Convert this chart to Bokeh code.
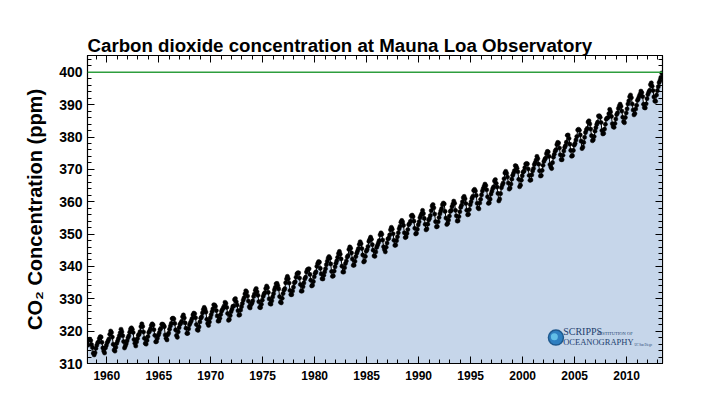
import numpy as np
from bokeh.plotting import figure
from bokeh.models import (LinearAxis, FixedTicker, Span, Label, Range1d)
from bokeh.embed import file_html
from bokeh.resources import INLINE

# Monthly mean CO2 at Mauna Loa (ppm), starting March 1958
start_year, start_month = 1958, 3
co2_1950s = [315.71, 317.45, 317.50, 317.10, 315.86, 314.93, 313.20, 312.66, 313.33, 314.67,
             315.62, 316.38, 316.71, 317.72, 318.29, 318.15, 316.54, 314.80, 313.84, 313.26, 314.80, 315.58]
co2_1960s = [316.43, 316.97, 317.58, 319.02, 320.03, 319.59, 318.18, 315.91, 314.16, 313.83, 315.00, 316.19,
             316.93, 317.70, 318.54, 319.48, 320.58, 319.77, 318.57, 316.79, 314.80, 315.38, 316.10, 317.01,
             317.94, 318.56, 319.68, 320.63, 321.01, 320.55, 319.58, 317.40, 316.26, 315.42, 316.69, 317.69,
             318.74, 319.08, 319.86, 321.39, 322.25, 321.47, 319.74, 317.77, 316.21, 315.99, 317.12, 318.31,
             319.57, 320.07, 320.73, 321.77, 322.25, 321.89, 320.44, 318.70, 316.70, 316.79, 317.79, 318.71,
             319.44, 320.44, 320.89, 322.13, 322.16, 321.87, 321.39, 318.81, 317.81, 317.30, 318.87, 319.42,
             320.62, 321.59, 322.39, 323.87, 324.01, 323.75, 322.39, 320.37, 318.64, 318.10, 319.79, 321.08,
             322.07, 322.50, 323.04, 324.42, 325.00, 324.09, 322.55, 320.92, 319.31, 319.31, 320.72, 321.96,
             322.57, 323.15, 323.89, 325.02, 325.57, 325.36, 324.14, 322.03, 320.41, 320.25, 321.31, 322.84,
             324.00, 324.42, 325.64, 326.66, 327.34, 326.76, 325.88, 323.67, 322.38, 321.78, 322.85, 324.11]
co2_1970s = [325.03, 325.99, 326.87, 328.13, 328.07, 327.66, 326.35, 324.69, 323.10, 323.16, 323.98, 325.13,
             326.17, 326.68, 327.18, 327.78, 328.92, 328.57, 327.34, 325.46, 323.36, 323.57, 324.80, 326.01,
             326.77, 327.63, 327.75, 329.72, 330.07, 329.09, 328.05, 326.32, 324.93, 325.06, 326.50, 327.55,
             328.54, 329.56, 330.30, 331.50, 332.48, 332.07, 330.87, 329.31, 327.51, 327.18, 328.16, 328.64,
             329.35, 330.71, 331.48, 332.65, 333.19, 332.16, 331.07, 329.12, 327.32, 327.28, 328.30, 329.58,
             330.73, 331.46, 331.90, 333.17, 333.94, 333.45, 331.97, 329.95, 328.50, 328.34, 329.37, 330.58,
             331.59, 332.75, 333.52, 334.64, 334.77, 334.00, 333.06, 330.68, 328.95, 328.75, 330.15, 331.62,
             332.66, 333.13, 334.95, 336.13, 336.93, 336.17, 334.88, 332.56, 331.29, 331.27, 332.41, 333.60,
             334.95, 335.25, 336.66, 337.69, 338.03, 338.01, 336.41, 334.41, 332.37, 332.41, 333.75, 334.90,
             336.14, 336.69, 338.27, 338.95, 339.21, 339.26, 337.54, 335.75, 333.98, 334.19, 335.31, 336.81]
co2_1980s = [337.90, 338.34, 340.01, 340.93, 341.48, 341.33, 339.40, 337.70, 336.19, 336.15, 337.27, 338.32,
             339.29, 340.55, 341.61, 342.53, 343.03, 342.54, 340.78, 338.44, 336.95, 337.08, 338.58, 339.88,
             340.96, 341.73, 342.81, 343.97, 344.63, 343.79, 342.32, 340.09, 338.28, 338.29, 339.60, 340.90,
             341.68, 342.90, 343.33, 345.25, 346.03, 345.63, 344.19, 342.27, 340.35, 340.38, 341.59, 343.05,
             344.10, 344.79, 345.52, 346.84, 347.63, 346.98, 345.53, 343.55, 341.40, 341.67, 343.10, 344.70,
             345.21, 346.16, 347.74, 348.34, 349.06, 348.38, 346.72, 345.02, 343.27, 343.13, 344.49, 345.88,
             346.56, 347.28, 348.01, 349.77, 350.38, 349.93, 348.16, 346.08, 345.22, 344.51, 345.93, 347.22,
             348.52, 348.73, 349.73, 351.31, 352.09, 351.53, 350.11, 348.08, 346.52, 346.59, 347.96, 349.16,
             350.39, 351.64, 352.41, 353.69, 354.21, 353.72, 352.69, 350.40, 348.92, 349.13, 350.20, 351.41,
             352.91, 353.27, 353.96, 355.64, 355.86, 355.37, 353.99, 351.81, 350.05, 350.25, 351.49, 352.85]
co2_1990s = [353.80, 355.04, 355.73, 356.32, 357.32, 356.34, 354.84, 353.01, 351.31, 351.62, 353.07, 354.33,
             354.84, 355.73, 357.23, 358.66, 359.13, 358.13, 356.19, 353.85, 352.25, 352.35, 353.81, 355.12,
             356.25, 357.11, 357.86, 359.09, 359.59, 359.33, 357.01, 354.94, 352.96, 353.32, 354.32, 355.57,
             357.00, 357.31, 358.47, 359.27, 360.19, 359.52, 357.33, 355.64, 354.03, 354.12, 355.41, 356.91,
             358.24, 358.92, 359.99, 361.23, 361.65, 360.90, 359.46, 357.37, 355.97, 356.10, 357.59, 359.08,
             359.98, 361.03, 361.66, 363.48, 363.82, 363.30, 361.94, 359.50, 358.11, 357.80, 359.61, 360.74,
             362.09, 363.29, 364.06, 364.76, 365.45, 365.01, 363.70, 361.54, 359.51, 359.65, 360.80, 362.38,
             363.23, 364.06, 364.61, 366.40, 366.84, 365.68, 364.52, 362.57, 360.24, 360.83, 362.49, 364.34,
             365.17, 365.78, 367.10, 368.86, 369.41, 368.78, 367.64, 365.77, 363.90, 364.23, 365.46, 366.97,
             368.15, 368.87, 369.59, 371.14, 371.00, 370.35, 369.27, 366.94, 364.63, 365.12, 366.67, 368.01]
co2_2000s = [369.14, 369.46, 370.52, 371.66, 371.82, 371.70, 370.12, 368.12, 366.62, 366.73, 368.29, 369.53,
             370.28, 371.50, 372.12, 372.87, 374.02, 373.30, 371.62, 369.55, 367.96, 368.09, 369.68, 371.24,
             372.44, 373.08, 373.52, 374.85, 375.55, 375.40, 374.02, 371.48, 370.70, 370.25, 372.08, 373.78,
             374.68, 375.63, 376.11, 377.65, 378.35, 378.13, 376.62, 374.50, 372.99, 373.00, 374.35, 375.70,
             376.79, 377.37, 378.41, 380.52, 380.63, 379.57, 377.79, 375.86, 374.06, 374.24, 375.86, 377.48,
             378.03, 379.10, 380.15, 382.16, 382.41, 382.10, 380.66, 378.71, 376.42, 376.88, 378.32, 379.91,
             381.38, 382.19, 382.67, 384.61, 385.03, 384.05, 382.46, 380.41, 378.85, 379.13, 380.15, 381.82,
             382.89, 383.90, 384.58, 386.50, 386.56, 386.10, 384.50, 381.99, 380.96, 381.12, 382.45, 383.95,
             385.52, 385.82, 386.03, 387.21, 388.54, 387.76, 386.36, 384.09, 383.18, 382.99, 384.19, 385.56,
             386.94, 387.48, 388.82, 389.55, 390.14, 389.48, 388.03, 386.11, 384.74, 384.43, 386.02, 387.42]
co2_2010s = [388.71, 390.20, 391.17, 392.46, 393.00, 392.15, 390.20, 388.35, 386.85, 387.24, 388.67, 389.79,
             391.33, 391.86, 392.60, 393.25, 394.19, 393.74, 392.51, 390.13, 389.08, 389.00, 390.28, 391.86,
             393.12, 393.86, 394.40, 396.18, 396.74, 395.71, 394.36, 392.39, 391.11, 391.05, 392.98, 394.34,
             395.55, 396.80, 397.43, 398.41, 399.78]

x_major_ticks = [1960, 1965, 1970, 1975, 1980, 1985, 1990, 1995, 2000, 2005, 2010]
y_major_ticks = [310, 320, 330, 340, 350, 360, 370, 380, 390, 400]
reference_level = 400

co2 = np.array(co2_1950s + co2_1960s + co2_1970s + co2_1980s + co2_1990s + co2_2000s + co2_2010s)
month_index = np.arange(len(co2)) + (start_month - 1)
dates = start_year + (month_index + 0.5) / 12.0

FONT = "Liberation Sans"
p = figure(width=698, height=383, output_backend="svg", toolbar_location=None,
           x_range=Range1d(1958.15, 2013.45), y_range=Range1d(310, 405.2),
           frame_width=575, frame_height=308,
           min_border_left=87, min_border_right=30, min_border_top=55, min_border_bottom=20,
           x_axis_location=None, y_axis_location=None)
p.background_fill_color = "white"
p.border_fill_color = "white"
p.outline_line_color = "black"
p.outline_line_width = 1.2
p.grid.visible = False

p.title.text = "Carbon dioxide concentration at Mauna Loa Observatory"
p.title.text_font = FONT
p.title.text_font_style = "bold"
p.title.text_font_size = "18.7px"
p.title.text_color = "black"
p.title.align = "left"
p.title.offset = 0
p.title.standoff = 0

xt = FixedTicker(ticks=x_major_ticks, minor_ticks=list(range(1958, 2014)))
yt = FixedTicker(ticks=y_major_ticks, minor_ticks=list(range(310, 406, 2)))

def style(ax, labels):
    ax.major_tick_in = 7
    ax.major_tick_out = 0
    ax.minor_tick_in = 4
    ax.minor_tick_out = 0
    ax.axis_line_color = "black"
    ax.major_tick_line_color = "black"
    ax.minor_tick_line_color = "black"
    ax.major_tick_line_width = 1
    ax.minor_tick_line_width = 1
    ax.major_label_text_font = FONT
    ax.major_label_text_font_style = "bold"
    ax.major_label_text_color = "black"
    if not labels:
        ax.major_label_text_font_size = "0px"
        ax.major_label_text_alpha = 0

bottom = LinearAxis(ticker=xt)
style(bottom, True)
bottom.major_label_text_font_size = "12px"
bottom.major_label_standoff = 7
p.add_layout(bottom, "below")

top = LinearAxis(ticker=xt)
style(top, False)
p.add_layout(top, "above")

left = LinearAxis(ticker=yt, axis_label="CO\u2082 Concentration (ppm)")
style(left, True)
left.major_label_text_font_size = "14px"
left.major_label_standoff = 5
left.axis_label_text_font = FONT
left.axis_label_text_font_style = "bold"
left.axis_label_text_font_size = "20px"
left.axis_label_text_color = "black"
left.axis_label_standoff = 10
p.add_layout(left, "left")

right = LinearAxis(ticker=yt)
style(right, False)
p.add_layout(right, "right")

p.varea(x=dates, y1=310, y2=co2, fill_color="#c6d6ea")
p.add_layout(Span(location=reference_level, dimension="width", line_color="#2e9e3e", line_width=1.5))
p.line(dates, co2, line_color="black", line_width=1)
p.scatter(dates, co2, size=4.2, fill_color="black", line_color="black", line_width=0.5)

# Scripps logo (decoration)
p.scatter([2003.2], [318.0], size=15, fill_color="#2f7fc0", line_color="#1f5a8f", line_width=1.5)
p.scatter([2003.05], [318.3], size=7, fill_color="#6fd0f0", line_color=None, alpha=0.8)
p.add_layout(Label(x=2003.9, y=318.2, text="SCRIPPS", text_font="Liberation Serif",
                   text_font_size="10px", text_color="#1e3f6e"))
p.add_layout(Label(x=2007.2, y=318.6, text="INSTITUTION OF", text_font="Liberation Serif",
                   text_font_size="4.5px", text_color="#1e3f6e"))
p.add_layout(Label(x=2003.9, y=315.2, text="OCEANOGRAPHY", text_font="Liberation Serif",
                   text_font_size="8.5px", text_color="#1e3f6e"))
p.add_layout(Label(x=2010.75, y=315.4, text="UC San Diego", text_font="Liberation Serif",
                   text_font_size="3px", text_color="#1e3f6e"))

open("out.html", "w").write(file_html(p, INLINE))
